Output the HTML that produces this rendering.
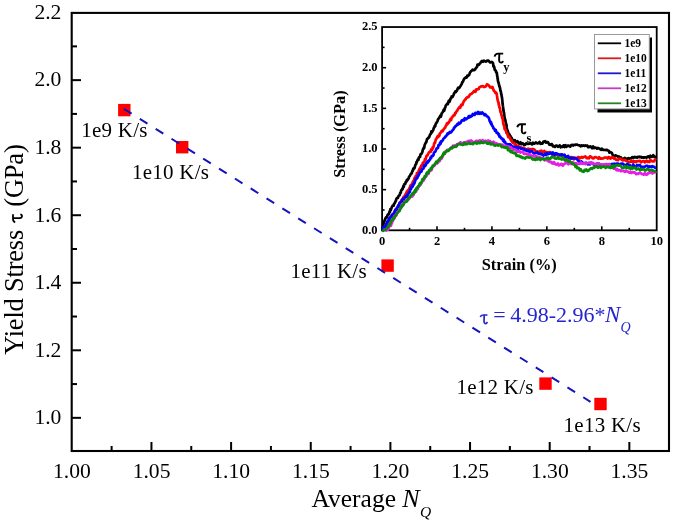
<!DOCTYPE html>
<html><head><meta charset="utf-8"><style>html,body{margin:0;padding:0;background:#fff;}svg{display:block;will-change:transform;filter:blur(0.35px);}</style></head>
<body><svg width="675" height="525" viewBox="0 0 675 525">
<rect width="675" height="525" fill="#fff"/>
<rect x="71.7" y="12.9" width="597.3" height="438.1" fill="none" stroke="#000" stroke-width="2.1"/>
<line x1="72" y1="417.84" x2="81" y2="417.84" stroke="#000" stroke-width="2"/>
<text x="61.4" y="424.14" font-family="Liberation Serif" font-size="21.6" text-anchor="end">1.0</text>
<line x1="72" y1="384.07" x2="77" y2="384.07" stroke="#000" stroke-width="2"/>
<line x1="72" y1="350.30" x2="81" y2="350.30" stroke="#000" stroke-width="2"/>
<text x="61.4" y="356.60" font-family="Liberation Serif" font-size="21.6" text-anchor="end">1.2</text>
<line x1="72" y1="316.53" x2="77" y2="316.53" stroke="#000" stroke-width="2"/>
<line x1="72" y1="282.76" x2="81" y2="282.76" stroke="#000" stroke-width="2"/>
<text x="61.4" y="289.06" font-family="Liberation Serif" font-size="21.6" text-anchor="end">1.4</text>
<line x1="72" y1="248.99" x2="77" y2="248.99" stroke="#000" stroke-width="2"/>
<line x1="72" y1="215.22" x2="81" y2="215.22" stroke="#000" stroke-width="2"/>
<text x="61.4" y="221.52" font-family="Liberation Serif" font-size="21.6" text-anchor="end">1.6</text>
<line x1="72" y1="181.45" x2="77" y2="181.45" stroke="#000" stroke-width="2"/>
<line x1="72" y1="147.68" x2="81" y2="147.68" stroke="#000" stroke-width="2"/>
<text x="61.4" y="153.98" font-family="Liberation Serif" font-size="21.6" text-anchor="end">1.8</text>
<line x1="72" y1="113.91" x2="77" y2="113.91" stroke="#000" stroke-width="2"/>
<line x1="72" y1="80.14" x2="81" y2="80.14" stroke="#000" stroke-width="2"/>
<text x="61.4" y="86.44" font-family="Liberation Serif" font-size="21.6" text-anchor="end">2.0</text>
<line x1="72" y1="46.37" x2="77" y2="46.37" stroke="#000" stroke-width="2"/>
<text x="61.4" y="18.90" font-family="Liberation Serif" font-size="21.6" text-anchor="end">2.2</text>
<text x="71.90" y="478.1" font-family="Liberation Serif" font-size="21.6" text-anchor="middle">1.00</text>
<line x1="111.62" y1="451" x2="111.62" y2="446" stroke="#000" stroke-width="2"/>
<line x1="151.45" y1="451" x2="151.45" y2="442" stroke="#000" stroke-width="2"/>
<text x="151.55" y="478.1" font-family="Liberation Serif" font-size="21.6" text-anchor="middle">1.05</text>
<line x1="191.27" y1="451" x2="191.27" y2="446" stroke="#000" stroke-width="2"/>
<line x1="231.10" y1="451" x2="231.10" y2="442" stroke="#000" stroke-width="2"/>
<text x="231.20" y="478.1" font-family="Liberation Serif" font-size="21.6" text-anchor="middle">1.10</text>
<line x1="270.93" y1="451" x2="270.93" y2="446" stroke="#000" stroke-width="2"/>
<line x1="310.75" y1="451" x2="310.75" y2="442" stroke="#000" stroke-width="2"/>
<text x="310.85" y="478.1" font-family="Liberation Serif" font-size="21.6" text-anchor="middle">1.15</text>
<line x1="350.58" y1="451" x2="350.58" y2="446" stroke="#000" stroke-width="2"/>
<line x1="390.40" y1="451" x2="390.40" y2="442" stroke="#000" stroke-width="2"/>
<text x="390.50" y="478.1" font-family="Liberation Serif" font-size="21.6" text-anchor="middle">1.20</text>
<line x1="430.23" y1="451" x2="430.23" y2="446" stroke="#000" stroke-width="2"/>
<line x1="470.05" y1="451" x2="470.05" y2="442" stroke="#000" stroke-width="2"/>
<text x="470.15" y="478.1" font-family="Liberation Serif" font-size="21.6" text-anchor="middle">1.25</text>
<line x1="509.87" y1="451" x2="509.87" y2="446" stroke="#000" stroke-width="2"/>
<line x1="549.70" y1="451" x2="549.70" y2="442" stroke="#000" stroke-width="2"/>
<text x="549.80" y="478.1" font-family="Liberation Serif" font-size="21.6" text-anchor="middle">1.30</text>
<line x1="589.52" y1="451" x2="589.52" y2="446" stroke="#000" stroke-width="2"/>
<line x1="629.35" y1="451" x2="629.35" y2="442" stroke="#000" stroke-width="2"/>
<text x="629.45" y="478.1" font-family="Liberation Serif" font-size="21.6" text-anchor="middle">1.35</text>
<text transform="translate(23.4,249.5) rotate(-90)" font-family="Liberation Serif" font-size="26.5" text-anchor="middle" textLength="210.5" lengthAdjust="spacing">Yield Stress <tspan fill="none">&#964;</tspan> (GPa)</text>
<path transform="translate(13,222.3) rotate(-90) scale(0.95,1.0)" d="M0,2.2 Q0.8,0 3.4,0 L8.6,0 M4.7,0.2 L4.5,6.7 Q4.7,9.3 7.0,9.0 Q8.1,8.7 8.3,7.3" stroke="#000" stroke-width="1.8" fill="none" vector-effect="non-scaling-stroke"/>
<text x="311.5" y="507.2" font-family="Liberation Serif" font-size="25.5">Average</text><text x="402.3" y="507.2" font-family="Liberation Serif" font-size="26" font-style="italic">N</text><text x="420" y="517.2" font-family="Liberation Serif" font-size="15.5" font-style="italic">Q</text>
<rect x="118.10" y="103.90" width="12.4" height="12.4" fill="#ff0000"/>
<rect x="176.00" y="141.00" width="12.4" height="12.4" fill="#ff0000"/>
<rect x="381.40" y="259.40" width="12.4" height="12.4" fill="#ff0000"/>
<rect x="539.30" y="377.40" width="12.4" height="12.4" fill="#ff0000"/>
<rect x="594.30" y="397.80" width="12.4" height="12.4" fill="#ff0000"/>
<line x1="124" y1="108.9" x2="590.5" y2="401.8" stroke="#1414bc" stroke-width="2" stroke-dasharray="9 9.7"/>
<text x="81.3" y="136.7" font-family="Liberation Serif" font-size="21" letter-spacing="0.25">1e9 K/s</text>
<text x="131.9" y="178.9" font-family="Liberation Serif" font-size="21" letter-spacing="0.25">1e10 K/s</text>
<text x="290.4" y="277.7" font-family="Liberation Serif" font-size="21" letter-spacing="0.25">1e11 K/s</text>
<text x="456.4" y="393.7" font-family="Liberation Serif" font-size="21" letter-spacing="0.25">1e12 K/s</text>
<text x="563.6" y="432.2" font-family="Liberation Serif" font-size="21" letter-spacing="0.25">1e13 K/s</text>
<path transform="translate(480.3,315) scale(0.83,0.95)" d="M0,2.2 Q0.8,0 3.4,0 L8.6,0 M4.7,0.2 L4.5,6.7 Q4.7,9.3 7.0,9.0 Q8.1,8.7 8.3,7.3" stroke="#2424d0" stroke-width="1.7" fill="none" vector-effect="non-scaling-stroke"/>
<text x="493.3" y="322.4" font-family="Liberation Serif" font-size="22" fill="#2424d0">=</text>
<text x="510.3" y="322.4" font-family="Liberation Serif" font-size="22" fill="#2424d0">4.98-2.96*</text>
<text x="605" y="322.4" font-family="Liberation Serif" font-size="23" fill="#2424d0" font-style="italic">N</text>
<text x="620.5" y="331.5" font-family="Liberation Serif" font-size="14" fill="#2424d0" font-style="italic">Q</text>
<rect x="382.10" y="27.05" width="274.60" height="203.25" fill="none" stroke="#000" stroke-width="1.8"/>
<text x="377.5" y="233.70" font-family="Liberation Serif" font-weight="bold" font-size="12.5" text-anchor="end">0.0</text>
<line x1="382.1" y1="209.98" x2="384.6" y2="209.98" stroke="#000" stroke-width="1.6"/>
<line x1="382.1" y1="189.65" x2="386.1" y2="189.65" stroke="#000" stroke-width="1.6"/>
<text x="377.5" y="193.05" font-family="Liberation Serif" font-weight="bold" font-size="12.5" text-anchor="end">0.5</text>
<line x1="382.1" y1="169.33" x2="384.6" y2="169.33" stroke="#000" stroke-width="1.6"/>
<line x1="382.1" y1="149.00" x2="386.1" y2="149.00" stroke="#000" stroke-width="1.6"/>
<text x="377.5" y="152.40" font-family="Liberation Serif" font-weight="bold" font-size="12.5" text-anchor="end">1.0</text>
<line x1="382.1" y1="128.68" x2="384.6" y2="128.68" stroke="#000" stroke-width="1.6"/>
<line x1="382.1" y1="108.35" x2="386.1" y2="108.35" stroke="#000" stroke-width="1.6"/>
<text x="377.5" y="111.75" font-family="Liberation Serif" font-weight="bold" font-size="12.5" text-anchor="end">1.5</text>
<line x1="382.1" y1="88.03" x2="384.6" y2="88.03" stroke="#000" stroke-width="1.6"/>
<line x1="382.1" y1="67.70" x2="386.1" y2="67.70" stroke="#000" stroke-width="1.6"/>
<text x="377.5" y="71.10" font-family="Liberation Serif" font-weight="bold" font-size="12.5" text-anchor="end">2.0</text>
<line x1="382.1" y1="47.38" x2="384.6" y2="47.38" stroke="#000" stroke-width="1.6"/>
<text x="377.5" y="30.45" font-family="Liberation Serif" font-weight="bold" font-size="12.5" text-anchor="end">2.5</text>
<text x="382.10" y="244.6" font-family="Liberation Serif" font-weight="bold" font-size="12.5" text-anchor="middle">0</text>
<line x1="409.56" y1="230.3" x2="409.56" y2="227.8" stroke="#000" stroke-width="1.6"/>
<line x1="437.02" y1="230.3" x2="437.02" y2="226.3" stroke="#000" stroke-width="1.6"/>
<text x="437.02" y="244.6" font-family="Liberation Serif" font-weight="bold" font-size="12.5" text-anchor="middle">2</text>
<line x1="464.48" y1="230.3" x2="464.48" y2="227.8" stroke="#000" stroke-width="1.6"/>
<line x1="491.94" y1="230.3" x2="491.94" y2="226.3" stroke="#000" stroke-width="1.6"/>
<text x="491.94" y="244.6" font-family="Liberation Serif" font-weight="bold" font-size="12.5" text-anchor="middle">4</text>
<line x1="519.40" y1="230.3" x2="519.40" y2="227.8" stroke="#000" stroke-width="1.6"/>
<line x1="546.86" y1="230.3" x2="546.86" y2="226.3" stroke="#000" stroke-width="1.6"/>
<text x="546.86" y="244.6" font-family="Liberation Serif" font-weight="bold" font-size="12.5" text-anchor="middle">6</text>
<line x1="574.32" y1="230.3" x2="574.32" y2="227.8" stroke="#000" stroke-width="1.6"/>
<line x1="601.78" y1="230.3" x2="601.78" y2="226.3" stroke="#000" stroke-width="1.6"/>
<text x="601.78" y="244.6" font-family="Liberation Serif" font-weight="bold" font-size="12.5" text-anchor="middle">8</text>
<line x1="629.24" y1="230.3" x2="629.24" y2="227.8" stroke="#000" stroke-width="1.6"/>
<text x="656.70" y="244.6" font-family="Liberation Serif" font-weight="bold" font-size="12.5" text-anchor="middle">10</text>
<text transform="translate(345.3,134) rotate(-90)" font-family="Liberation Serif" font-weight="bold" font-size="16.4" text-anchor="middle">Stress (GPa)</text>
<text x="519.2" y="269.5" font-family="Liberation Serif" font-weight="bold" font-size="16.4" text-anchor="middle">Strain (%)</text>
<path d="M382.2,230.3 L382.4,228.9 L382.6,227.4 L382.8,227.5 L383.0,225.1 L383.2,225.1 L383.6,223.7 L383.9,222.0 L384.3,222.0 L384.6,220.0 L385.0,219.9 L385.5,218.2 L386.0,217.4 L386.5,217.3 L387.0,217.4 L387.5,215.0 L388.0,214.4 L388.4,214.4 L388.8,214.3 L389.2,212.7 L389.6,211.4 L390.0,211.9 L390.4,209.0 L390.9,210.0 L391.5,207.9 L392.0,206.7 L392.5,205.8 L393.1,205.4 L393.6,205.7 L394.1,203.5 L394.5,203.5 L395.0,202.8 L395.4,201.4 L395.9,200.9 L396.3,199.0 L396.8,198.2 L397.4,197.7 L397.9,197.9 L398.4,196.5 L399.0,195.4 L399.5,195.2 L399.9,194.1 L400.2,192.9 L400.6,193.1 L400.9,192.1 L401.2,190.3 L401.6,190.2 L402.0,189.2 L402.5,189.2 L402.9,188.0 L403.3,186.2 L403.8,186.9 L404.2,184.2 L404.7,184.0 L405.3,184.0 L405.8,181.8 L406.3,181.8 L406.8,180.0 L407.2,180.5 L407.7,179.9 L408.2,178.7 L408.7,178.6 L409.1,176.5 L409.6,176.5 L410.1,175.5 L410.5,174.7 L411.0,173.6 L411.4,173.6 L411.8,173.1 L412.3,171.2 L412.7,170.9 L413.2,168.7 L413.6,169.3 L414.0,168.4 L414.4,168.4 L414.8,167.2 L415.2,165.2 L415.6,164.6 L416.0,164.4 L416.4,162.2 L416.8,162.4 L417.2,160.9 L417.7,160.0 L418.1,159.1 L418.5,159.8 L418.9,157.6 L419.3,157.1 L419.7,156.6 L420.1,156.8 L420.5,154.3 L420.9,154.3 L421.3,153.7 L421.7,153.6 L422.0,152.6 L422.4,151.9 L422.8,149.7 L423.1,149.2 L423.5,148.2 L423.8,148.5 L424.2,147.8 L424.6,145.2 L424.9,144.4 L425.3,143.7 L425.7,142.8 L426.0,142.5 L426.4,141.9 L426.7,140.3 L427.1,138.9 L427.6,139.0 L428.1,138.0 L428.6,137.5 L429.0,137.5 L429.5,136.1 L430.0,134.8 L430.5,134.2 L430.9,133.6 L431.4,131.4 L431.9,132.4 L432.4,131.3 L432.9,130.7 L433.3,129.7 L433.8,128.0 L434.3,127.2 L434.8,125.8 L435.2,126.1 L435.7,124.0 L436.1,123.2 L436.6,122.7 L437.0,121.8 L437.4,121.3 L437.9,119.8 L438.3,118.9 L438.8,118.4 L439.3,117.5 L439.8,117.2 L440.3,115.6 L440.8,116.7 L441.3,115.3 L441.7,113.4 L442.2,112.8 L442.6,112.2 L443.1,111.4 L443.5,110.0 L444.0,110.8 L444.4,110.3 L444.8,108.3 L445.3,107.5 L445.7,105.8 L446.2,105.0 L446.6,104.7 L447.2,103.6 L447.8,104.1 L448.4,101.8 L448.9,100.6 L449.5,101.8 L450.1,100.1 L450.6,98.4 L451.1,98.4 L451.6,96.5 L452.1,96.7 L452.6,96.9 L453.1,95.8 L453.7,94.7 L454.2,93.0 L454.8,92.6 L455.3,91.4 L455.9,92.0 L456.4,90.8 L457.0,90.6 L457.6,88.8 L458.2,87.7 L458.9,88.2 L459.5,87.7 L460.1,86.6 L460.7,85.7 L461.2,84.9 L461.8,83.9 L462.4,81.9 L462.9,81.7 L463.4,80.5 L464.0,79.0 L464.6,78.2 L465.1,78.1 L465.7,77.3 L466.2,77.6 L466.8,77.4 L467.3,75.6 L467.9,76.0 L468.6,75.4 L469.3,74.7 L469.9,72.7 L470.6,71.7 L471.3,71.1 L472.0,70.3 L472.8,69.7 L473.6,70.1 L474.4,70.1 L475.2,69.3 L476.0,68.0 L476.5,67.5 L477.0,66.9 L477.5,64.5 L478.0,64.9 L478.8,64.8 L479.5,63.9 L480.2,63.2 L481.0,62.0 L482.0,60.9 L483.0,61.9 L484.0,60.6 L485.0,61.3 L486.2,61.7 L487.3,60.5 L488.5,60.6 L489.8,62.3 L491.0,62.3 L491.9,61.9 L492.8,62.7 L493.1,63.6 L493.4,66.1 L493.7,66.8 L494.0,66.2 L494.5,68.7 L494.9,70.1 L495.4,70.3 L495.8,70.7 L496.1,72.1 L496.5,72.2 L496.8,72.9 L497.2,76.0 L497.3,76.3 L497.5,77.1 L497.6,79.0 L497.8,78.9 L497.9,80.8 L498.1,81.7 L498.2,81.4 L498.4,82.5 L498.7,83.5 L499.0,84.4 L499.3,86.2 L499.6,86.5 L499.9,87.8 L500.1,88.1 L500.3,90.7 L500.5,90.3 L500.8,91.4 L501.0,92.6 L501.2,94.1 L501.4,94.0 L501.6,95.9 L501.7,96.0 L501.8,97.1 L502.0,98.1 L502.1,97.9 L502.2,99.9 L502.3,100.2 L502.4,100.7 L502.5,103.4 L502.6,102.9 L502.7,104.5 L502.9,105.9 L503.0,106.5 L503.1,106.9 L503.2,108.2 L503.3,109.2 L503.4,110.6 L503.6,110.0 L503.7,112.0 L503.9,112.2 L504.1,113.1 L504.2,115.1 L504.4,115.5 L504.5,116.5 L504.7,117.8 L504.9,119.1 L505.0,119.0 L505.2,120.2 L505.4,121.0 L505.7,122.0 L505.9,123.4 L506.2,123.9 L506.4,125.1 L506.6,126.0 L506.8,128.0 L506.9,128.4 L507.1,129.8 L507.3,131.0 L507.6,130.4 L508.0,131.9 L508.3,133.7 L508.7,134.3 L509.0,133.7 L509.5,134.5 L510.0,136.0 L510.5,136.0 L511.0,137.1 L511.5,137.6 L512.3,139.5 L513.2,140.5 L514.0,141.4 L514.9,140.1 L515.8,141.8 L516.7,142.1 L517.6,141.3 L518.6,143.2 L519.5,143.7 L520.5,142.3 L521.4,144.2 L522.4,143.2 L523.3,143.7 L524.3,145.1 L525.3,144.7 L526.2,143.3 L527.2,143.8 L528.1,144.0 L529.1,143.6 L530.0,143.3 L531.0,143.6 L532.0,144.4 L532.9,142.7 L533.9,143.8 L534.8,143.4 L535.8,142.4 L536.7,143.0 L537.6,143.5 L538.6,143.1 L539.6,142.0 L540.5,143.9 L541.5,143.4 L542.4,143.6 L543.4,141.6 L544.3,141.8 L545.2,141.2 L546.2,142.7 L547.0,142.0 L547.8,142.1 L548.6,143.2 L549.5,144.7 L550.3,144.9 L551.1,144.1 L551.9,144.2 L552.9,146.4 L554.0,146.2 L555.0,146.9 L556.0,145.6 L556.9,145.5 L557.9,146.8 L558.8,146.2 L559.8,145.4 L560.7,147.3 L561.6,146.6 L562.6,146.9 L563.5,145.3 L564.5,147.0 L565.5,145.2 L566.4,146.9 L567.4,145.9 L568.3,145.6 L569.2,146.0 L570.2,146.7 L571.1,145.2 L572.1,144.8 L573.0,145.6 L574.0,144.9 L575.0,144.7 L575.9,144.8 L576.9,144.6 L577.9,145.0 L578.8,145.3 L579.8,145.3 L580.7,146.3 L581.7,145.3 L582.6,145.9 L583.6,145.4 L584.5,145.9 L585.5,145.3 L586.4,146.0 L587.4,145.6 L588.3,147.3 L589.3,147.0 L590.2,146.3 L591.2,147.1 L592.1,148.2 L593.1,146.5 L594.0,148.2 L595.0,147.5 L596.0,147.8 L597.0,148.7 L597.9,147.9 L598.9,148.4 L599.9,149.0 L600.9,149.8 L601.8,148.6 L602.8,149.8 L603.8,149.8 L604.6,150.0 L605.4,149.9 L606.2,150.2 L607.1,149.9 L607.9,150.5 L608.7,150.8 L609.5,152.6 L610.3,152.1 L611.1,152.5 L611.9,152.9 L612.7,155.1 L613.5,155.7 L614.3,155.9 L615.3,155.4 L616.2,155.6 L617.2,156.1 L618.1,156.8 L619.1,156.5 L620.0,157.4 L621.0,157.4 L622.0,159.1 L622.9,159.3 L623.9,158.5 L624.8,158.0 L625.8,159.8 L626.7,158.5 L627.6,158.8 L628.6,158.2 L629.5,158.6 L630.5,158.3 L631.4,157.9 L632.4,157.2 L633.3,157.9 L634.3,156.8 L635.2,157.4 L636.2,157.0 L637.1,157.7 L638.1,156.9 L639.1,156.7 L640.0,157.2 L641.0,156.9 L641.9,157.6 L642.9,157.3 L643.8,157.7 L644.8,157.4 L645.7,157.4 L646.6,157.7 L647.6,156.5 L648.5,156.3 L649.4,157.6 L650.4,155.7 L651.3,156.9 L652.3,156.6 L653.2,155.2 L654.1,156.9 L655.1,156.9 L656.0,156.0" fill="none" stroke="#000000" stroke-width="2.7" stroke-linejoin="round"/>
<path d="M382.4,230.3 L383.0,229.9 L383.6,229.4 L384.1,228.8 L384.7,226.6 L385.3,226.8 L385.9,226.0 L386.3,225.9 L386.8,225.0 L387.2,224.1 L387.6,222.8 L388.0,222.6 L388.5,221.3 L388.9,220.4 L389.5,218.7 L390.0,217.5 L390.6,217.0 L391.2,216.8 L391.8,215.6 L392.3,216.5 L392.9,215.1 L393.4,214.4 L393.9,213.6 L394.4,212.9 L394.9,211.6 L395.4,209.7 L395.9,210.7 L396.4,209.7 L396.9,208.3 L397.4,207.6 L397.9,207.0 L398.4,204.9 L398.9,205.5 L399.4,203.6 L399.9,202.4 L400.4,202.0 L400.9,202.2 L401.4,200.2 L401.9,200.5 L402.4,200.2 L402.9,198.3 L403.4,197.2 L403.9,196.6 L404.4,196.2 L404.9,195.6 L405.5,194.4 L406.1,193.6 L406.8,191.6 L407.4,190.9 L408.0,190.3 L408.6,190.5 L409.1,188.6 L409.6,188.3 L410.2,186.1 L410.7,185.3 L411.2,184.8 L411.6,184.8 L412.1,184.0 L412.5,183.1 L413.0,181.4 L413.4,181.0 L413.9,180.1 L414.3,179.2 L414.7,177.6 L415.2,178.4 L415.6,176.1 L416.1,176.9 L416.5,176.0 L416.9,173.1 L417.4,173.3 L417.8,173.3 L418.3,172.8 L418.7,170.8 L419.2,169.6 L419.6,168.7 L420.1,169.5 L420.5,167.1 L421.0,167.1 L421.4,165.3 L421.9,165.3 L422.3,165.4 L422.8,162.8 L423.2,163.5 L423.7,162.0 L424.1,162.1 L424.6,160.8 L425.0,159.0 L425.5,159.7 L426.0,158.0 L426.4,156.2 L426.9,155.3 L427.4,155.6 L427.8,154.7 L428.3,153.6 L428.9,152.5 L429.4,152.2 L430.0,151.5 L430.6,151.9 L431.2,149.3 L431.7,150.3 L432.3,149.7 L432.6,147.3 L433.0,148.1 L433.3,146.8 L433.7,146.3 L434.0,144.0 L434.3,143.3 L434.7,142.5 L435.0,142.9 L435.4,141.1 L435.7,139.7 L436.2,139.1 L436.8,138.0 L437.3,136.8 L437.8,136.1 L438.4,137.0 L438.9,135.0 L439.4,135.7 L439.9,133.4 L440.5,132.7 L441.0,132.5 L441.5,131.1 L442.1,130.7 L442.6,131.3 L443.1,130.3 L443.6,129.4 L444.2,128.3 L444.7,128.2 L445.2,127.5 L445.8,125.9 L446.3,125.5 L446.9,123.3 L447.5,124.1 L448.1,122.7 L448.7,122.7 L449.3,121.7 L449.9,120.2 L450.5,119.0 L451.1,120.1 L451.7,117.5 L452.2,117.4 L452.8,116.3 L453.4,115.4 L454.0,115.5 L454.6,115.2 L455.2,112.9 L455.8,112.9 L456.4,111.4 L457.0,111.1 L457.6,109.9 L458.3,108.6 L458.9,107.8 L459.5,107.0 L460.2,107.7 L460.8,106.0 L461.4,104.6 L462.0,105.3 L462.6,104.7 L463.2,102.7 L463.8,101.3 L464.4,100.6 L465.0,99.6 L465.6,99.4 L466.2,98.2 L466.8,97.8 L467.3,97.1 L467.9,97.1 L468.5,97.1 L469.1,96.0 L469.9,94.7 L470.7,94.1 L471.6,93.8 L472.4,92.9 L473.2,92.2 L474.0,91.0 L474.8,90.9 L475.5,91.8 L476.3,89.3 L477.1,89.5 L477.8,89.2 L478.6,89.1 L479.5,87.2 L480.3,86.9 L481.1,86.4 L482.0,86.3 L483.0,86.2 L484.0,87.1 L484.9,86.7 L485.9,86.5 L486.9,84.4 L488.2,84.7 L489.5,86.5 L490.2,87.4 L491.0,86.9 L491.8,87.7 L492.5,86.9 L493.1,88.6 L493.7,90.5 L494.3,91.1 L494.9,92.0 L495.5,93.0 L495.9,92.4 L496.4,93.1 L496.8,94.2 L497.0,96.0 L497.2,97.4 L497.4,99.0 L497.6,99.5 L497.8,100.3 L498.0,101.5 L498.2,101.7 L498.4,102.8 L498.6,102.6 L498.8,105.2 L499.1,104.9 L499.3,107.3 L499.5,107.6 L499.7,107.8 L499.9,108.3 L500.1,109.5 L500.3,111.2 L500.6,112.3 L500.8,111.9 L501.1,112.7 L501.3,114.6 L501.6,115.6 L501.8,116.1 L502.1,116.7 L502.3,118.4 L502.6,118.0 L502.8,119.6 L503.0,120.9 L503.2,123.0 L503.3,123.3 L503.5,124.8 L503.7,124.9 L504.0,125.4 L504.3,126.4 L504.6,129.0 L504.9,129.5 L505.2,129.6 L505.6,129.8 L506.1,131.7 L506.5,133.0 L506.9,133.3 L507.4,133.8 L507.8,135.6 L508.3,137.1 L508.7,136.4 L509.3,136.7 L509.9,138.1 L510.4,139.1 L511.0,140.4 L511.6,140.1 L512.2,142.2 L512.9,142.8 L513.5,143.0 L514.3,143.1 L515.1,145.5 L515.9,144.8 L516.7,146.7 L517.7,145.8 L518.6,146.1 L519.5,147.6 L520.5,146.9 L521.5,148.7 L522.4,148.1 L523.3,147.8 L524.3,148.2 L525.2,148.8 L526.2,149.4 L527.1,150.2 L528.1,148.6 L529.0,149.3 L530.0,149.0 L530.9,150.8 L531.9,149.1 L532.8,149.1 L533.8,149.2 L534.8,150.1 L535.7,151.4 L536.6,151.5 L537.6,151.3 L538.5,152.0 L539.5,152.0 L540.4,150.9 L541.4,150.7 L542.3,152.5 L543.3,152.2 L544.3,150.9 L545.2,152.5 L546.2,152.1 L547.1,152.3 L548.1,152.4 L549.0,152.3 L550.0,152.1 L551.0,153.0 L552.0,153.4 L553.0,155.0 L554.0,153.5 L555.0,155.6 L556.0,154.0 L557.0,154.4 L558.0,155.5 L559.0,155.6 L560.0,154.9 L560.9,154.2 L561.8,155.4 L562.7,155.4 L563.6,156.9 L564.5,155.5 L565.4,156.2 L566.3,157.7 L567.2,156.1 L568.2,157.2 L569.1,158.4 L570.0,158.6 L571.0,157.1 L572.0,157.2 L573.0,157.4 L574.0,159.4 L575.0,157.7 L576.0,158.5 L576.9,158.6 L577.9,157.1 L578.8,157.0 L579.8,158.5 L580.7,157.7 L581.6,156.9 L582.6,157.9 L583.5,157.0 L584.4,156.9 L585.3,156.3 L586.3,157.9 L587.2,158.3 L588.1,157.6 L589.1,158.3 L590.0,156.3 L590.9,156.8 L591.8,157.4 L592.7,158.5 L593.6,158.5 L594.5,157.3 L595.5,157.1 L596.4,157.5 L597.3,157.7 L598.2,158.7 L599.1,157.1 L600.0,158.6 L601.0,158.4 L601.9,158.6 L602.9,158.5 L603.8,158.1 L604.8,157.5 L605.7,157.5 L606.6,157.6 L607.6,158.5 L608.5,157.0 L609.5,157.2 L610.5,158.6 L611.4,157.6 L612.4,157.4 L613.3,157.4 L614.2,158.7 L615.2,158.4 L616.1,159.9 L617.1,159.9 L618.0,160.2 L619.0,158.8 L620.0,158.6 L620.9,158.8 L621.9,159.9 L622.8,160.5 L623.8,160.1 L624.8,159.9 L625.7,160.4 L626.7,161.1 L627.6,161.4 L628.6,161.7 L629.6,162.0 L630.5,161.7 L631.5,160.5 L632.4,162.1 L633.4,161.0 L634.3,161.6 L635.2,161.3 L636.2,162.1 L637.1,161.0 L638.1,161.1 L639.1,161.1 L640.0,160.8 L641.0,162.4 L641.9,161.7 L642.9,161.1 L643.8,161.2 L644.8,162.4 L645.7,161.3 L646.6,160.7 L647.6,161.9 L648.5,161.4 L649.5,162.1 L650.4,160.0 L651.3,160.7 L652.3,161.3 L653.2,161.3 L654.1,161.3 L655.1,159.3 L656.0,160.2" fill="none" stroke="#ff0000" stroke-width="2.7" stroke-linejoin="round"/>
<path d="M382.2,230.3 L382.8,229.0 L383.3,227.7 L383.9,227.0 L384.4,227.9 L385.0,226.2 L385.5,226.1 L386.0,224.0 L386.5,224.2 L387.0,222.5 L387.5,221.2 L388.0,221.5 L388.5,221.0 L389.1,218.4 L389.6,218.8 L390.2,218.1 L390.8,216.5 L391.4,216.1 L391.9,214.9 L392.5,214.3 L393.1,213.6 L393.7,213.6 L394.2,212.8 L394.8,211.0 L395.4,209.8 L396.0,209.6 L396.5,209.6 L397.0,207.6 L397.5,207.1 L398.0,206.0 L398.5,206.5 L399.0,205.1 L399.6,203.2 L400.2,202.5 L400.8,202.3 L401.4,201.8 L402.0,201.1 L402.6,199.1 L403.4,198.5 L404.1,199.0 L404.9,197.7 L405.6,196.7 L406.3,196.0 L407.1,196.7 L407.8,194.6 L408.2,194.3 L408.6,193.0 L409.0,192.3 L409.4,192.5 L409.8,191.9 L410.2,189.7 L410.7,188.5 L411.2,188.8 L411.6,186.8 L412.1,185.6 L412.6,186.7 L413.1,184.8 L413.6,184.8 L414.0,183.0 L414.5,183.2 L415.0,181.4 L415.5,179.9 L415.9,178.7 L416.4,179.0 L416.9,178.3 L417.4,178.1 L417.9,175.5 L418.4,175.8 L418.9,174.5 L419.4,173.9 L419.9,172.3 L420.4,171.8 L421.0,171.5 L421.5,171.6 L422.0,169.0 L422.5,169.0 L423.0,168.9 L423.5,168.5 L424.0,165.9 L424.5,165.0 L425.1,166.0 L425.7,165.3 L426.3,163.5 L426.9,161.8 L427.5,162.9 L428.2,161.0 L428.8,161.3 L429.4,160.0 L430.0,159.6 L430.6,157.4 L431.2,158.0 L431.7,156.0 L432.3,155.7 L432.8,155.9 L433.4,155.1 L433.9,152.9 L434.5,152.2 L435.0,151.9 L435.5,151.3 L436.0,150.1 L436.5,148.7 L437.0,148.1 L437.5,148.2 L438.0,147.7 L438.5,145.0 L439.0,145.4 L439.5,145.0 L440.1,142.7 L440.6,143.7 L441.1,141.3 L441.6,141.6 L442.2,140.8 L442.8,140.2 L443.4,138.7 L444.0,138.2 L444.6,137.8 L445.2,136.7 L445.8,136.6 L446.5,135.5 L447.1,134.8 L447.7,133.3 L448.4,133.9 L449.0,133.0 L449.8,131.9 L450.6,132.6 L451.3,132.1 L452.1,130.9 L452.9,129.8 L453.4,129.7 L453.9,128.1 L454.4,127.4 L455.0,127.3 L455.5,125.9 L456.0,125.9 L456.7,125.4 L457.5,123.8 L458.2,124.5 L458.9,122.7 L459.6,123.6 L460.4,123.1 L461.1,121.9 L461.8,120.3 L462.5,120.7 L463.3,119.8 L464.0,120.5 L464.8,118.2 L465.6,119.4 L466.4,119.2 L467.2,118.2 L468.0,117.9 L468.8,116.1 L469.6,117.4 L470.4,115.9 L471.2,116.5 L472.0,115.9 L472.9,113.9 L473.7,115.0 L474.6,115.0 L475.4,112.8 L476.3,113.1 L477.1,113.7 L478.0,112.0 L479.1,113.8 L480.1,112.5 L481.1,113.8 L482.2,112.4 L483.4,113.7 L484.5,115.1 L485.2,114.3 L486.0,115.1 L486.8,116.3 L487.5,116.6 L488.0,116.7 L488.6,117.8 L489.1,118.5 L489.6,121.0 L490.0,121.2 L490.4,122.5 L490.8,121.8 L491.1,124.0 L491.5,123.3 L491.9,125.1 L492.4,126.1 L492.9,126.4 L493.4,128.3 L494.0,128.5 L494.5,129.3 L495.0,130.8 L495.8,130.0 L496.6,132.8 L497.4,132.8 L497.9,133.0 L498.4,134.7 L498.9,134.2 L499.4,136.6 L499.9,136.4 L500.4,136.7 L501.0,138.3 L501.7,138.4 L502.4,138.5 L503.0,140.5 L503.6,139.7 L504.2,142.1 L504.9,141.6 L505.5,143.1 L506.4,144.4 L507.2,144.0 L508.1,144.7 L508.9,144.4 L509.8,144.2 L510.6,144.8 L511.5,145.5 L512.4,146.9 L513.4,146.8 L514.3,147.2 L515.2,148.4 L516.1,147.0 L517.1,147.5 L518.0,148.7 L518.9,147.5 L519.8,147.7 L520.7,148.7 L521.6,148.3 L522.5,149.1 L523.4,149.0 L524.3,150.0 L525.2,150.3 L526.0,149.7 L526.9,150.8 L527.8,150.8 L528.6,150.3 L529.5,152.3 L530.3,151.0 L531.2,151.1 L532.1,151.2 L532.9,152.6 L533.8,153.4 L534.8,153.4 L535.7,152.8 L536.6,152.7 L537.6,152.3 L538.5,153.9 L539.5,153.9 L540.4,153.6 L541.4,154.4 L542.3,154.2 L543.3,155.5 L544.3,154.9 L545.2,153.8 L546.2,155.1 L547.1,153.1 L548.1,154.1 L549.1,153.8 L550.0,153.3 L551.0,152.8 L551.9,154.3 L552.9,152.5 L553.9,153.8 L554.9,154.8 L555.9,153.2 L557.0,153.5 L558.0,154.5 L559.0,154.4 L560.0,154.8 L560.9,155.4 L561.8,154.3 L562.7,154.8 L563.6,155.0 L564.5,154.7 L565.4,156.9 L566.3,157.0 L567.2,157.2 L568.2,155.9 L569.1,158.1 L570.0,158.2 L570.9,157.8 L571.8,158.7 L572.6,158.3 L573.5,158.0 L574.4,158.0 L575.2,158.5 L576.1,158.3 L577.0,159.1 L577.9,160.5 L578.7,160.9 L579.6,161.7 L580.4,161.9 L581.3,161.3 L582.1,162.4 L583.0,162.7 L584.0,163.5 L585.0,163.1 L586.0,162.6 L587.0,163.6 L588.0,164.4 L589.0,162.9 L590.0,164.4 L590.9,162.6 L591.8,163.2 L592.7,163.2 L593.6,164.4 L594.5,164.9 L595.5,164.5 L596.4,163.7 L597.3,164.9 L598.2,163.8 L599.1,163.7 L600.0,165.2 L601.0,164.6 L601.9,164.8 L602.9,164.8 L603.8,165.5 L604.8,164.4 L605.7,165.2 L606.6,164.9 L607.6,165.3 L608.5,164.4 L609.5,165.1 L610.4,164.7 L611.4,164.2 L612.3,163.9 L613.2,164.8 L614.2,163.6 L615.1,165.4 L616.1,163.7 L617.0,163.5 L618.0,163.6 L618.9,165.4 L619.9,164.2 L620.9,163.7 L621.9,163.5 L622.8,163.5 L623.8,164.9 L624.8,164.9 L625.7,165.1 L626.6,165.3 L627.6,163.9 L628.5,165.2 L629.5,164.8 L630.4,165.9 L631.4,166.0 L632.3,166.3 L633.3,164.5 L634.3,166.4 L635.2,166.6 L636.2,166.7 L637.1,165.0 L638.1,165.3 L639.1,165.2 L640.0,165.1 L641.0,167.0 L641.9,167.0 L642.9,166.7 L643.8,167.2 L644.8,166.8 L645.7,166.1 L646.6,165.8 L647.6,165.9 L648.5,167.4 L649.5,166.3 L650.4,166.6 L651.3,166.9 L652.3,166.1 L653.2,166.7 L654.1,166.8 L655.1,167.8 L656.0,167.4" fill="none" stroke="#0000ff" stroke-width="2.7" stroke-linejoin="round"/>
<path d="M383.3,230.3 L384.2,229.7 L385.2,229.4 L386.1,230.5 L387.1,229.3 L388.0,229.8 L388.6,228.5 L389.2,226.4 L389.8,226.4 L390.4,225.7 L391.0,225.6 L391.4,223.7 L391.8,223.5 L392.2,222.1 L392.6,220.4 L393.0,220.8 L393.5,218.3 L394.0,219.0 L394.5,216.8 L395.0,215.6 L395.5,215.2 L396.0,215.6 L396.6,215.2 L397.2,212.2 L397.8,212.5 L398.3,211.6 L398.9,211.5 L399.5,209.3 L400.0,209.2 L400.5,208.0 L401.0,208.2 L401.5,206.1 L402.0,206.8 L402.5,204.5 L403.2,203.7 L403.8,204.0 L404.5,202.9 L405.1,201.3 L405.8,201.7 L406.4,199.8 L407.1,200.6 L407.8,199.8 L408.6,199.4 L409.3,198.4 L410.0,197.2 L410.8,196.7 L411.5,196.0 L412.3,196.5 L413.0,194.1 L413.6,195.0 L414.2,192.3 L414.8,191.9 L415.3,191.1 L415.9,191.7 L416.5,190.0 L417.1,188.9 L417.7,189.2 L418.2,186.9 L418.8,186.6 L419.4,185.9 L420.0,185.6 L420.6,184.7 L421.1,183.7 L421.6,182.2 L422.2,181.3 L422.8,180.1 L423.3,180.8 L423.9,179.6 L424.4,179.0 L424.9,176.9 L425.5,176.7 L426.1,176.6 L426.7,175.4 L427.3,173.7 L427.9,173.7 L428.5,173.8 L429.2,171.6 L429.8,170.8 L430.4,170.3 L431.0,170.4 L431.6,169.9 L432.2,167.6 L432.8,166.9 L433.5,166.3 L434.1,165.7 L434.7,165.4 L435.4,163.8 L436.0,163.4 L436.8,162.4 L437.5,163.3 L438.3,162.0 L439.0,159.9 L439.8,161.0 L440.4,158.3 L440.9,158.1 L441.5,158.7 L442.1,157.4 L442.6,156.5 L443.3,155.1 L443.9,153.7 L444.5,153.9 L445.2,151.9 L445.8,151.4 L446.5,151.2 L447.3,149.8 L448.0,150.0 L448.8,150.2 L449.5,149.4 L450.4,148.4 L451.2,148.0 L452.1,147.0 L453.0,145.7 L453.8,146.3 L454.6,145.4 L455.4,145.7 L456.2,145.6 L457.0,144.0 L457.9,144.0 L458.8,144.0 L459.6,143.0 L460.5,142.2 L461.4,143.1 L462.4,143.2 L463.4,142.8 L464.3,142.4 L465.2,142.6 L466.2,142.0 L467.2,141.7 L468.1,141.1 L469.1,140.9 L470.1,141.6 L471.1,140.5 L472.0,141.3 L473.0,142.2 L474.0,142.1 L475.0,142.0 L476.0,140.9 L477.0,141.1 L478.0,140.9 L479.0,141.1 L480.0,140.4 L480.9,141.0 L481.8,141.7 L482.7,140.1 L483.7,141.2 L484.6,141.5 L485.5,140.7 L486.4,141.0 L487.3,142.2 L488.2,140.4 L489.1,141.7 L490.0,141.0 L490.9,142.5 L491.8,143.1 L492.7,142.3 L493.6,141.7 L494.5,142.9 L495.4,143.1 L496.2,143.7 L497.1,143.5 L498.0,144.1 L498.9,144.7 L499.8,144.3 L500.6,144.4 L501.5,145.9 L502.3,144.6 L503.2,145.9 L504.0,145.6 L504.9,146.7 L505.7,145.6 L506.6,147.8 L507.4,146.7 L508.3,146.3 L509.1,147.1 L510.0,147.7 L510.9,147.2 L511.7,148.4 L512.6,148.8 L513.5,149.7 L514.3,149.3 L515.2,149.5 L516.0,149.7 L516.9,151.2 L517.8,152.0 L518.6,151.4 L519.5,151.1 L520.4,152.6 L521.2,152.0 L522.1,151.8 L523.0,151.9 L523.8,153.6 L524.7,153.9 L525.5,153.8 L526.4,153.7 L527.3,154.1 L528.1,153.6 L529.0,155.5 L529.9,154.4 L530.7,155.3 L531.6,156.0 L532.5,156.3 L533.4,155.7 L534.2,155.6 L535.1,156.5 L536.0,155.8 L536.9,157.6 L537.7,156.8 L538.6,158.2 L539.5,157.2 L540.3,157.8 L541.2,157.9 L542.1,158.6 L542.9,158.4 L543.8,158.4 L544.6,160.3 L545.5,159.7 L546.4,159.9 L547.2,160.4 L548.1,161.2 L549.0,161.3 L549.8,162.0 L550.7,162.3 L551.5,161.9 L552.4,163.5 L553.3,163.6 L554.1,162.1 L555.0,164.0 L556.0,164.5 L556.9,164.6 L557.9,163.5 L558.8,165.3 L559.8,165.2 L560.7,164.1 L561.7,163.9 L562.6,165.7 L563.5,164.8 L564.5,163.7 L565.5,163.2 L566.4,163.0 L567.4,163.1 L568.3,164.2 L569.2,163.1 L570.2,162.6 L571.1,164.1 L572.1,163.8 L573.0,162.3 L574.0,163.8 L575.0,163.2 L575.9,163.6 L576.9,163.4 L577.8,163.9 L578.8,163.7 L579.8,163.9 L580.7,162.5 L581.7,163.6 L582.6,163.3 L583.6,163.8 L584.6,163.2 L585.5,164.2 L586.5,163.6 L587.4,163.0 L588.4,163.0 L589.3,162.8 L590.2,163.6 L591.2,162.7 L592.1,163.7 L593.1,163.0 L594.1,163.9 L595.1,164.0 L596.1,164.2 L597.0,165.0 L598.0,163.2 L599.0,165.1 L600.0,164.4 L601.0,164.7 L601.9,165.0 L602.9,165.4 L603.8,164.4 L604.8,164.6 L605.7,165.8 L606.6,163.9 L607.6,165.2 L608.5,165.2 L609.5,164.0 L610.3,165.8 L611.2,166.5 L612.0,167.5 L612.9,166.8 L613.7,168.7 L614.6,168.2 L615.4,168.7 L616.3,170.1 L617.1,168.8 L618.1,170.5 L619.0,170.4 L620.0,170.0 L621.0,171.3 L621.9,170.4 L622.9,170.8 L623.8,171.1 L624.8,171.8 L625.7,170.7 L626.7,171.4 L627.6,171.5 L628.6,171.9 L629.5,172.7 L630.5,171.7 L631.4,173.0 L632.4,172.2 L633.3,172.6 L634.3,172.2 L635.2,172.9 L636.2,174.1 L637.1,173.5 L638.1,173.9 L639.1,173.1 L640.0,173.2 L641.0,173.3 L641.9,174.1 L642.9,174.3 L643.8,174.6 L644.8,173.0 L645.7,174.5 L646.7,174.8 L647.6,174.1 L648.5,172.7 L649.5,173.0 L650.4,172.1 L651.3,172.2 L652.3,173.5 L653.2,172.6 L654.1,172.4 L655.1,172.4 L656.0,171.5" fill="none" stroke="#e61ee6" stroke-width="2.7" stroke-linejoin="round"/>
<path d="M382.2,230.3 L383.1,230.9 L384.1,229.9 L385.1,229.6 L386.0,229.3 L386.7,228.6 L387.4,227.6 L388.1,227.0 L388.8,225.2 L389.5,225.4 L389.9,224.1 L390.3,223.9 L390.8,221.6 L391.2,221.0 L391.6,219.8 L392.0,220.6 L392.6,220.2 L393.1,218.9 L393.7,217.6 L394.3,217.9 L394.9,217.1 L395.4,215.9 L396.0,214.5 L396.6,213.7 L397.2,213.2 L397.8,212.1 L398.4,211.5 L399.0,211.1 L399.6,211.0 L400.1,208.2 L400.6,208.5 L401.1,206.5 L401.5,205.8 L402.0,206.5 L402.5,205.2 L403.2,205.2 L403.8,203.5 L404.5,201.8 L405.1,201.9 L405.8,201.6 L406.4,201.7 L407.1,201.1 L407.8,199.2 L408.5,198.4 L409.3,197.0 L410.0,197.5 L410.7,195.8 L411.5,194.9 L412.2,193.9 L412.8,193.1 L413.4,193.7 L414.0,191.7 L414.6,192.7 L415.2,189.9 L415.8,190.8 L416.4,188.4 L417.0,187.3 L417.6,188.0 L418.2,186.1 L418.8,186.3 L419.4,184.3 L419.9,183.2 L420.4,184.1 L420.9,183.2 L421.4,182.7 L421.9,181.6 L422.3,179.4 L422.8,179.9 L423.3,179.3 L423.8,178.0 L424.3,178.2 L424.8,176.0 L425.4,176.8 L426.0,175.5 L426.6,173.1 L427.2,172.4 L427.8,173.0 L428.5,172.6 L429.1,170.2 L429.7,170.0 L430.3,170.1 L430.9,168.1 L431.5,168.9 L432.1,167.3 L432.8,165.6 L433.4,165.5 L434.0,165.2 L434.7,164.1 L435.3,163.9 L436.0,162.0 L436.8,162.6 L437.5,160.9 L438.3,160.8 L439.0,160.0 L439.6,158.8 L440.2,157.9 L440.8,158.0 L441.4,157.6 L442.0,156.5 L442.7,155.3 L443.3,153.9 L443.9,152.7 L444.6,153.9 L445.2,152.5 L446.0,152.3 L446.7,150.7 L447.5,150.7 L448.2,151.0 L449.0,150.1 L449.8,149.2 L450.6,148.1 L451.3,147.9 L452.1,148.4 L452.9,146.8 L453.8,147.1 L454.8,146.5 L455.8,146.8 L456.7,146.2 L457.6,144.8 L458.6,143.9 L459.6,144.2 L460.5,144.3 L461.4,144.5 L462.4,144.8 L463.4,144.8 L464.3,142.7 L465.2,144.3 L466.2,144.2 L467.1,144.2 L468.1,143.4 L469.1,142.6 L470.0,143.8 L471.0,143.8 L472.0,143.6 L473.0,144.2 L474.0,143.0 L475.0,142.5 L476.0,143.3 L477.0,143.6 L478.0,142.1 L479.0,143.1 L480.0,143.2 L481.1,141.8 L482.1,142.7 L483.2,142.9 L484.3,142.5 L485.2,142.1 L486.1,142.3 L487.0,143.6 L487.9,143.8 L488.8,143.2 L489.7,142.6 L490.6,144.3 L491.5,144.4 L492.4,143.5 L493.4,144.4 L494.3,145.4 L495.2,145.6 L496.1,145.0 L497.1,145.1 L498.0,145.6 L498.9,144.9 L499.8,145.2 L500.8,145.5 L501.7,147.0 L502.6,146.5 L503.6,147.3 L504.5,147.3 L505.4,147.8 L506.4,147.3 L507.3,147.4 L508.0,150.1 L508.6,149.4 L509.3,149.5 L510.0,151.3 L510.8,152.1 L511.6,151.1 L512.4,152.6 L513.2,152.5 L514.0,153.3 L514.8,152.6 L515.5,153.1 L516.3,155.7 L517.1,155.9 L517.9,155.5 L518.7,156.1 L519.5,155.9 L520.5,157.2 L521.4,156.6 L522.4,158.0 L523.3,157.7 L524.2,158.1 L525.2,158.6 L526.1,157.2 L527.1,156.9 L528.0,157.5 L529.0,157.6 L530.0,157.5 L530.9,157.5 L531.9,158.7 L532.8,159.5 L533.8,158.7 L534.8,159.9 L535.7,159.9 L536.7,158.1 L537.6,159.4 L538.6,159.1 L539.6,158.4 L540.5,160.1 L541.5,158.5 L542.4,159.0 L543.4,159.1 L544.3,159.7 L545.2,159.0 L546.2,158.3 L547.1,158.3 L548.1,157.6 L549.1,159.2 L550.1,159.2 L551.1,157.4 L552.0,156.9 L553.0,157.3 L554.0,157.4 L555.0,158.5 L556.0,158.6 L556.9,158.6 L557.9,157.0 L558.8,158.7 L559.8,158.7 L560.7,158.7 L561.6,159.5 L562.6,157.6 L563.4,158.2 L564.3,159.9 L565.1,160.6 L566.0,160.4 L566.8,159.9 L567.6,160.9 L568.5,161.6 L569.3,160.5 L570.1,161.6 L570.9,162.1 L571.6,162.5 L572.4,163.9 L573.2,163.8 L574.0,164.6 L574.8,165.0 L575.6,166.9 L576.4,166.0 L577.2,168.2 L578.0,167.7 L578.8,168.0 L579.8,170.3 L580.7,169.2 L581.7,171.2 L582.6,171.4 L583.6,171.9 L584.5,170.0 L585.5,170.5 L586.4,169.5 L587.4,171.1 L588.3,170.8 L589.3,169.8 L590.2,168.9 L591.2,168.2 L592.1,168.8 L593.1,167.6 L594.1,167.8 L595.0,166.7 L596.0,166.8 L596.9,166.3 L597.9,167.7 L598.8,167.3 L599.8,166.3 L600.8,167.9 L601.7,166.6 L602.7,167.0 L603.7,166.5 L604.6,166.7 L605.6,168.0 L606.6,166.9 L607.6,166.6 L608.5,167.4 L609.5,167.0 L610.5,168.0 L611.4,166.1 L612.4,167.7 L613.3,165.5 L614.2,167.1 L615.2,166.3 L616.1,165.1 L617.1,165.5 L618.1,165.2 L619.0,165.4 L620.0,165.4 L620.9,166.0 L621.9,167.6 L622.8,167.8 L623.8,167.8 L624.8,166.2 L625.7,166.7 L626.6,168.2 L627.6,166.5 L628.5,168.1 L629.5,167.3 L630.4,168.9 L631.4,167.0 L632.3,168.8 L633.3,167.9 L634.3,167.7 L635.2,167.5 L636.2,169.5 L637.1,169.0 L638.1,168.4 L639.1,169.1 L640.0,170.3 L641.0,168.9 L641.9,169.8 L642.9,169.0 L643.8,169.2 L644.8,170.5 L645.7,170.5 L646.6,169.4 L647.6,169.2 L648.5,169.3 L649.5,170.5 L650.4,170.3 L651.3,169.9 L652.3,169.8 L653.2,170.8 L654.1,171.0 L655.1,171.3 L656.0,170.7" fill="none" stroke="#088808" stroke-width="2.7" stroke-linejoin="round"/>
<path transform="translate(0,0)" d="M494.6,56.6 Q495.3,53.6 498,53.6 L503.2,53.6 M499.3,53.8 L499.1,60.3 Q499.3,62.9 501.6,62.6 Q502.7,62.3 502.9,60.9" stroke="#000" stroke-width="1.9" fill="none"/>
<text x="503.3" y="71.2" font-family="Liberation Serif" font-weight="bold" font-size="12.5">y</text>
<path transform="translate(22.7,70.7)" d="M494.6,56.6 Q495.3,53.6 498,53.6 L503.2,53.6 M499.3,53.8 L499.1,60.3 Q499.3,62.9 501.6,62.6 Q502.7,62.3 502.9,60.9" stroke="#000" stroke-width="1.9" fill="none"/>
<text x="526.6" y="141.6" font-family="Liberation Serif" font-weight="bold" font-size="12.5">s</text>
<rect x="597.5" y="37.5" width="54.5" height="75" fill="#000"/>
<rect x="594.5" y="34.5" width="54.8" height="74.4" fill="#fff" stroke="#999" stroke-width="1"/>
<line x1="597.8" y1="43.3" x2="621.1" y2="43.3" stroke="#000000" stroke-width="1.8"/>
<text x="624.5" y="47.199999999999996" font-family="Liberation Serif" font-weight="bold" font-size="11.5">1e9</text>
<line x1="597.8" y1="58.3" x2="621.1" y2="58.3" stroke="#d81c1c" stroke-width="1.8"/>
<text x="624.5" y="62.199999999999996" font-family="Liberation Serif" font-weight="bold" font-size="11.5">1e10</text>
<line x1="597.8" y1="73.3" x2="621.1" y2="73.3" stroke="#1a1acc" stroke-width="1.8"/>
<text x="624.5" y="77.2" font-family="Liberation Serif" font-weight="bold" font-size="11.5">1e11</text>
<line x1="597.8" y1="88.3" x2="621.1" y2="88.3" stroke="#c43cc4" stroke-width="1.8"/>
<text x="624.5" y="92.2" font-family="Liberation Serif" font-weight="bold" font-size="11.5">1e12</text>
<line x1="597.8" y1="103.3" x2="621.1" y2="103.3" stroke="#268426" stroke-width="1.8"/>
<text x="624.5" y="107.2" font-family="Liberation Serif" font-weight="bold" font-size="11.5">1e13</text>
</svg></body></html>
